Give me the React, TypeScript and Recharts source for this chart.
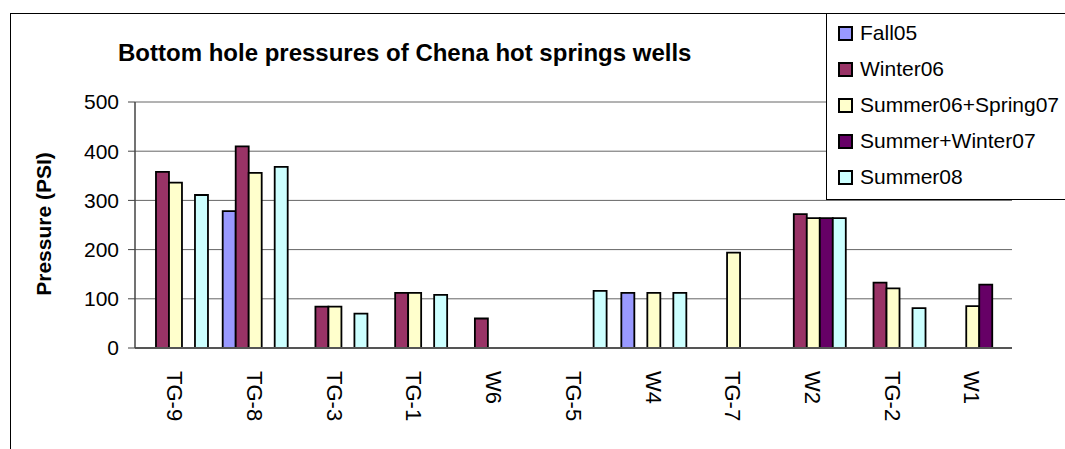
import React from "react";
import { BarChart, Bar, XAxis, YAxis, CartesianGrid } from "recharts";

const categories = ["TG-9", "TG-8", "TG-3", "TG-1", "W6", "TG-5", "W4", "TG-7", "W2", "TG-2", "W1"];
const fall05 = [null, 278, null, null, null, null, 112, null, null, null, null];
const winter06 = [358, 410, 84, 112, 60, null, null, null, 272, 133, null];
const summer06Spring07 = [336, 356, 84, 112, null, null, 112, 194, 264, 121, 85];
const summerWinter07 = [null, null, null, null, null, null, null, null, 264, null, 129];
const summer08 = [311, 368, 70, 108, null, 116, 112, null, 264, 81, null];
const yTicks = [0, 100, 200, 300, 400, 500];

const series = [
  { key: "Fall05", values: fall05, color: "#9999FF" },
  { key: "Winter06", values: winter06, color: "#993366" },
  { key: "Summer06+Spring07", values: summer06Spring07, color: "#FFFFCC" },
  { key: "Summer+Winter07", values: summerWinter07, color: "#660066" },
  { key: "Summer08", values: summer08, color: "#CCFFFF" },
];

const FONT = '"Liberation Sans", Arial, sans-serif';

const data = categories.map((name, i) => {
  const row: Record<string, string | number | null> = { name };
  series.forEach((s) => {
    row[s.key] = s.values[i];
  });
  return row;
});

// rotated well names under the axis
const WellTick = ({ x, y, payload }: any) => (
  <text
    transform={`translate(${x},${y + 21}) rotate(90)`}
    textAnchor="start"
    dy="0.35em"
    fontSize={22}
    fontFamily={FONT}
    fill="#000"
  >
    {payload.value}
  </text>
);

export default function App() {
  return (
    <div
      style={{
        position: "absolute",
        left: 0,
        top: 0,
        width: 1065,
        height: 449,
        overflow: "hidden",
        background: "#fff",
        fontFamily: FONT,
      }}
    >
      <div
        style={{
          position: "absolute",
          left: 10,
          top: 13,
          width: 1200,
          height: 600,
          border: "1px solid #000",
        }}
      />
      <div style={{ position: "absolute", left: 0, top: 0 }}>
        <BarChart
          width={1065}
          height={449}
          data={data}
          margin={{ top: 102, right: 53, bottom: 0, left: 75 }}
          barCategoryGap="10%"
          barGap={0}
        >
          <CartesianGrid vertical={false} stroke="#666" />
          <XAxis
            dataKey="name"
            height={101}
            tickLine={false}
            tickSize={0}
            axisLine={{ stroke: "#555", strokeWidth: 2 }}
            tick={<WellTick />}
            interval={0}
          />
          <YAxis
            width={60}
            domain={[0, 500]}
            ticks={yTicks}
            tickSize={7}
            tickMargin={9}
            axisLine={{ stroke: "#444", strokeWidth: 1.5 }}
            tickLine={{ stroke: "#444" }}
            tick={{ fontSize: 21, fill: "#000", fontFamily: FONT }}
            label={{
              content: () => (
                <text
                  transform="translate(43,224) rotate(-90)"
                  textAnchor="middle"
                  dominantBaseline="central"
                  fontSize={21}
                  fontWeight="bold"
                  fontFamily={FONT}
                  fill="#000"
                >
                  Pressure (PSI)
                </text>
              ),
            }}
          />
          <YAxis
            yAxisId="frame"
            orientation="right"
            width={0}
            domain={[0, 500]}
            tick={false}
            tickLine={false}
            axisLine={{ stroke: "#999" }}
          />
          {series.map((s) => (
            <Bar
              key={s.key}
              dataKey={s.key}
              fill={s.color}
              stroke="#000"
              strokeWidth={1.8}
              isAnimationActive={false}
            />
          ))}
        </BarChart>
      </div>
      <div
        style={{
          position: "absolute",
          left: 118,
          top: 41,
          fontSize: 24,
          lineHeight: "24px",
          fontWeight: "bold",
          whiteSpace: "nowrap",
        }}
      >
        Bottom hole pressures of Chena hot springs wells
      </div>
      <div
        style={{
          position: "absolute",
          left: 826,
          top: 13,
          width: 260,
          height: 185,
          border: "1px solid #000",
          background: "#fff",
        }}
      >
        {series.map((s, i) => (
          <div
            key={s.key}
            style={{
              position: "absolute",
              left: 11,
              top: 19 + i * 36 - 12,
              height: 24,
              display: "flex",
              alignItems: "center",
              whiteSpace: "nowrap",
            }}
          >
            <span
              style={{
                display: "inline-block",
                width: 11,
                height: 11,
                border: "2px solid #000",
                background: s.color,
                marginRight: 7,
              }}
            />
            <span style={{ fontSize: 21, color: "#000" }}>{s.key}</span>
          </div>
        ))}
      </div>
    </div>
  );
}
